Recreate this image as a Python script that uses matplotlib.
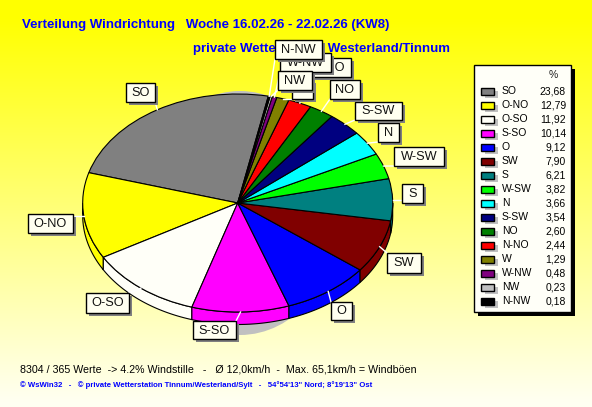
import matplotlib
matplotlib.use('Agg')
import matplotlib.pyplot as plt
from matplotlib.patches import Ellipse, Polygon, Rectangle
import numpy as np

plt.rcParams['font.family'] = ['Liberation Sans', 'DejaVu Sans']

directions = ['SO', 'O-NO', 'O-SO', 'S-SO', 'O', 'SW', 'S', 'W-SW', 'N', 'S-SW',
              'NO', 'N-NO', 'W', 'W-NW', 'NW', 'N-NW']
percent = [23.68, 12.79, 11.92, 10.14, 9.12, 7.90, 6.21, 3.82, 3.66, 3.54,
           2.60, 2.44, 1.29, 0.48, 0.23, 0.18]
percent_text = ['23,68', '12,79', '11,92', '10,14', '9,12', '7,90', '6,21', '3,82',
                '3,66', '3,54', '2,60', '2,44', '1,29', '0,48', '0,23', '0,18']
colors = ['#808080', '#FFFF00', '#FFFFF8', '#FF00FF', '#0000FF', '#800000', '#008080', '#00FF00',
          '#00FFFF', '#000080', '#008000', '#FF0000', '#808000', '#800080', '#C0C0C0', '#000000']

# label boxes in pixels: left, top, right, bottom
boxes = [(126, 83, 155, 102), (28, 214, 73, 233), (86, 293, 129, 313), (193, 321, 236, 339),
         (331, 302, 352, 320), (387, 253, 421, 273), (402, 184, 423, 203), (394, 147, 444, 166),
         (378, 123, 399, 142), (355, 102, 402, 120), (330, 80, 360, 99), (305, 58, 351, 77),
         (292, 80, 313, 99), (280, 53, 331, 72), (278, 71, 312, 90), (275, 40, 322, 59)]

W, H = 592, 407
cx, cy, rx, ry = 237.7, 203, 155, 109
depth = 12.5 / ry

fig = plt.figure(figsize=(W / 100, H / 100), dpi=100)

# background with the gradient and the grey shadow of the pie
bg = fig.add_axes([0, 0, 1, 1], zorder=0)
bg.set_xlim(0, W)
bg.set_ylim(H, 0)
bg.axis('off')
grad = np.linspace(0, 1, 256).reshape(-1, 1)
rgb = np.ones((256, 1, 3))
rgb[:, :, 2] = np.clip((grad - 0.04) * 1.0, 0, 0.95)
bg.imshow(rgb, extent=[0, W, H, 0], aspect='auto')
bg.add_patch(Ellipse((240, 213), 200, 244, color='#C0C0C0', lw=0))

# the pie, the axes are stretched so it becomes an ellipse
pax = fig.add_axes([(cx - rx) / W, (H - cy - ry) / H, 2 * rx / W, 2 * ry / H], zorder=1)
wedges, _ = pax.pie(percent, colors=colors, startangle=78.6, counterclock=True,
                    wedgeprops={'edgecolor': 'black', 'linewidth': 0.8})
pax.set_aspect('auto')
pax.set_xlim(-1, 1)
pax.set_ylim(-1, 1)

for w, c in zip(wedges, colors):
    t1, t2 = max(w.theta1, 180), min(w.theta2, 360)
    if t2 <= t1:
        continue
    t = np.radians(np.linspace(t1, t2, 40))
    top = np.column_stack([np.cos(t), np.sin(t)])
    low = top[::-1] - [0, depth]
    pax.add_patch(Polygon(np.vstack([top, low]), facecolor=c, edgecolor='black',
                          lw=0.8, clip_on=False, zorder=0))

# everything else on top, in pixels
ax = fig.add_axes([0, 0, 1, 1], zorder=2)
ax.set_xlim(0, W)
ax.set_ylim(H, 0)
ax.axis('off')

ax.text(22, 25, 'Verteilung Windrichtung   Woche 16.02.26 - 22.02.26 (KW8)', color='#0000FF',
        fontsize=9.5, fontweight='bold', va='center')
ax.text(193, 49, 'private Wetterstation Westerland/Tinnum', color='#0000FF',
        fontsize=9.55, fontweight='bold', va='center')
ax.text(20, 369, '8304 / 365 Werte  -> 4.2% Windstille   -   Ø 12,0km/h  -  Max. 65,1km/h = Windböen',
        color='black', fontsize=7.65, va='center')
ax.text(20, 385, '© WsWin32   -   © private Wetterstation Tinnum/Westerland/Sylt   -   '
        '54°54\'13" Nord; 8°19\'13" Ost', color='#0000FF', fontsize=5.55, fontweight='bold', va='center')

# pie labels with white leader lines
for w, name, (l, t, r, b) in zip(wedges, directions, boxes):
    mid = np.radians((w.theta1 + w.theta2) / 2)
    x0, y0 = cx + rx * np.cos(mid), cy - ry * np.sin(mid)
    ax.plot([x0, np.clip(x0, l, r)], [y0, np.clip(y0, t, b)], color='white', lw=1, zorder=2)
    ax.add_patch(Rectangle((l + 3, t + 3), r - l, b - t, color='#808080', lw=0, zorder=3))
    ax.add_patch(Rectangle((l, t), r - l, b - t, facecolor='#FFFFF0', edgecolor='black', lw=1, zorder=3))
    ax.text((l + r) / 2, (t + b) / 2 + 0.5, name, fontsize=9.2, ha='center', va='center',
            color='#111111', zorder=3)

# legend
ax.add_patch(Rectangle((478, 69), 97, 247, color='black', lw=0, zorder=4))
ax.add_patch(Rectangle((474, 65), 97, 247, facecolor='#FFFFF8', edgecolor='black', lw=1, zorder=4))
ax.text(553, 75, '%', fontsize=7.5, ha='center', va='center', color='#222222', zorder=5)
for i, (name, txt, c) in enumerate(zip(directions, percent_text, colors)):
    y = 91 + 14 * i
    ax.add_patch(Rectangle((485, y), 13, 7, color='#C0C0C0', lw=0, zorder=5))
    ax.add_patch(Rectangle((481, y - 3), 13, 6.5, facecolor=c, edgecolor='black', lw=1, zorder=5))
    ax.text(502, y, name, fontsize=7.5, va='center', zorder=5)
    ax.text(566, y, txt, fontsize=7.5, va='center', ha='right', zorder=5)

fig.savefig('out.png', dpi=100)
